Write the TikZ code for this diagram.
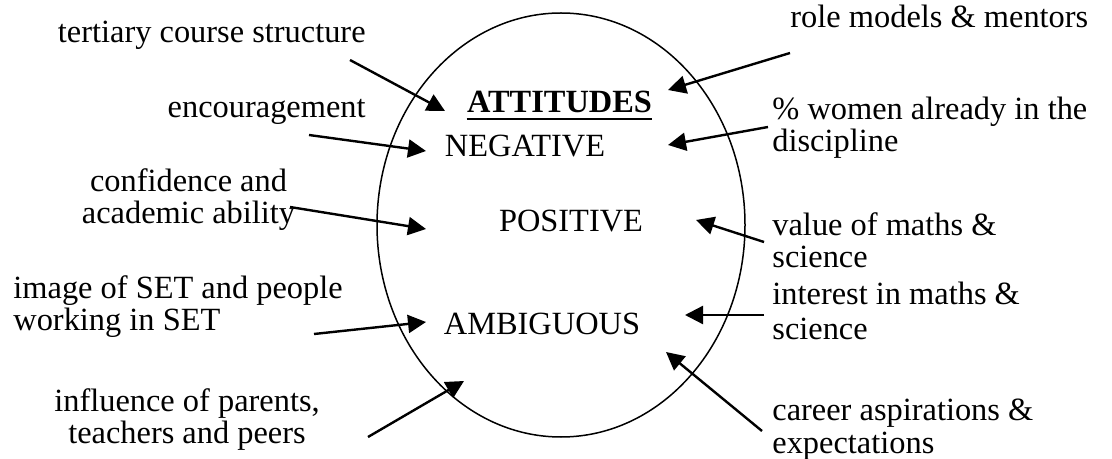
\documentclass[tikz,border=0pt]{standalone}
\usepackage{fontspec}
\setmainfont{Liberation Serif}
\usetikzlibrary{arrows.meta,shapes.geometric}
\begin{document}
\begin{tikzpicture}[x=0.5pt,y=-0.5pt,
  lbl/.style={inner sep=0pt, font=\fontsize{16.2}{16}\selectfont},
  arr/.style={line width=1.2pt, -{Triangle[length=9pt,width=9pt]}},
  oval/.style={draw, ellipse, line width=0.75pt, inner sep=0pt, minimum width=184pt, minimum height=212pt}
]
\useasboundingbox (0,0) rectangle (1112,459);
\node[oval] (att) at (561,225) {};
% inner texts
\node[lbl, anchor=base] (attl) at (559.5,113) {\textbf{ATTITUDES}};
\draw[line width=1.1pt] ([yshift=-3pt]attl.base west) -- ([yshift=-3pt]attl.base east);
\node[lbl, anchor=base] (neg) at (525,157) {NEGATIVE};
\node[lbl, anchor=base] (pos) at (571,232) {POSITIVE};
\node[lbl, anchor=base] (amb) at (542,335) {AMBIGUOUS};
% left labels (base anchor = last line's baseline)
\node[lbl, anchor=base east] (tcs) at (366,43) {tertiary course structure};
\node[lbl, anchor=base east] (enc) at (366,118) {encouragement};
\node[lbl, align=center, anchor=base] (conf) at (188.5,224) {confidence and\\academic ability};
\node[lbl, align=left, anchor=base west] (img) at (13,330) {image of SET and people\\working in SET};
\node[lbl, align=center, anchor=base] (inf) at (187,443) {influence of parents,\\teachers and peers};
% right labels
\node[lbl, anchor=base west] (role) at (790,28) {role models \& mentors};
\node[lbl, align=left, anchor=base west] (wom) at (772,152) {\% women already in the\\discipline};
\node[lbl, align=left, anchor=base west] (val) at (772,268) {value of maths \&\\science};
\node[lbl, align=left, anchor=base west] (int) at (772,340) {interest in maths \&\\[1.5pt]science};
\node[lbl, align=left, anchor=base west] (car) at (772,453) {career aspirations \&\\[0.5pt]expectations};
% arrow ends
\coordinate (t1) at (350,60);  \coordinate (h1) at (445,111);
\coordinate (t2) at (309,135); \coordinate (h2) at (426,151);
\coordinate (t3) at (290,207); \coordinate (h3) at (426,229);
\coordinate (t4) at (314,334); \coordinate (h4) at (426,322);
\coordinate (t5) at (368,437); \coordinate (h5) at (464,381);
\coordinate (t6) at (790,53);  \coordinate (h6) at (668,90);
\coordinate (t7) at (768,127); \coordinate (h7) at (668,145);
\coordinate (t8) at (764,242); \coordinate (h8) at (696,220);
\coordinate (t9) at (764,315); \coordinate (h9) at (685,315);
\coordinate (t10) at (762,431); \coordinate (h10) at (666,352);
\foreach \i in {1,...,10} {\draw[arr] (t\i) -- (h\i);}
\end{tikzpicture}
\end{document}
